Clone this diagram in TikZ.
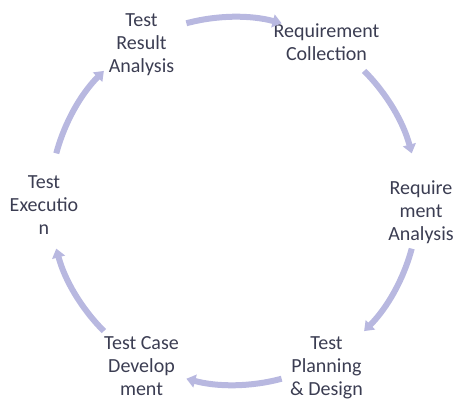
\documentclass[tikz,border=0pt]{standalone}
\usepackage{fontspec}
\setmainfont{Carlito}
\usepackage{xcolor}
\usetikzlibrary{arrows.meta}

\definecolor{stagetext}{HTML}{3B3D52}
\definecolor{cyclearrow}{HTML}{B8B8E0}

\begin{document}
\begin{tikzpicture}[
  stage/.style={align=center, inner sep=0pt, text=stagetext,
                font=\fontsize{20pt}{23pt}\selectfont},
  cyc/.style={draw=cyclearrow, line width=6pt,
              -{Triangle[width=13pt,length=9pt]}}]
\useasboundingbox (-234pt,-196pt) rectangle (222pt,205pt);
% the six stages round the cycle
\node[stage] (tra) at (120:185pt) {Test\\Result\\Analysis};
\node[stage, yshift=3pt] (rc) at (60:185pt) {Requirement\\Collection};
\node[stage, yshift=-7pt] (ra) at (0:187pt) {Require\\ment\\Analysis};
\node[stage, yshift=-3pt] (tpd) at (-60:185pt) {Test\\Planning\\\& Design};
\node[stage, yshift=-1pt] (tcd) at (-120:185pt) {Test Case\\Develop\\ment};
\node[stage] (te) at (180:190pt) {Test\\Executio\\n};
% arrows between stages, clockwise
\coordinate (hub) at (0,4pt);
\foreach \m in {90,30,-30,-90,-150,150}
  \draw[cyc] ([shift={(\m+15:184pt)}]hub)
    arc[start angle=\m+15, end angle=\m-15, radius=184pt];
\end{tikzpicture}
\end{document}
